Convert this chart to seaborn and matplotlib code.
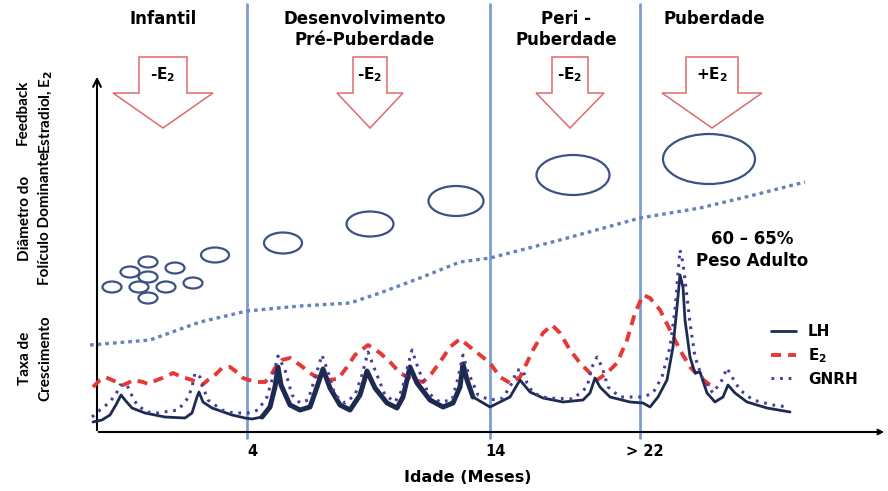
import numpy as np
import matplotlib.pyplot as plt
import seaborn as sns
from matplotlib.patches import Ellipse, Polygon

sns.set_style("white")
plt.rcParams['font.family'] = ['DejaVu Sans']
plt.rcParams['text.color'] = 'black'

# ---- dados (coordenadas do esquema, em pixels da figura) ----
# curva de crescimento (pontilhada azul)
cresc_x = [90, 150, 200, 247, 300, 350, 380, 420, 460, 490, 560, 600, 640, 700, 750, 805]
cresc_y = [345, 340, 322, 311, 306, 303, 293, 278, 262, 258, 240, 229, 218, 208, 196, 182]

# estradiol E2 (tracejada vermelha)
e2_x = [93, 100, 105, 112, 123, 128, 133, 143, 148, 157, 165, 173, 182, 192, 202, 208,
        213, 222, 230, 238, 243, 255, 265, 270, 275, 282, 290, 300, 313, 327, 338, 347,
        355, 368, 380, 390, 400, 413, 423, 432, 440, 450, 460, 470, 480, 490, 500, 510,
        520, 533, 543, 552, 560, 570, 580, 590, 597, 607, 617, 627, 635, 643, 650, 660,
        670, 680, 690, 700, 710, 715]
e2_y = [387, 380, 377, 380, 385, 383, 380, 382, 384, 380, 377, 373, 377, 380, 385, 380,
        377, 368, 367, 373, 378, 382, 382, 377, 368, 360, 358, 365, 375, 380, 379, 367,
        355, 345, 353, 362, 373, 380, 382, 373, 362, 347, 339, 347, 355, 363, 377, 383,
        377, 350, 333, 325, 333, 350, 363, 373, 380, 373, 363, 340, 313, 295, 298, 310,
        330, 350, 367, 377, 385, 387]

# LH (linha contínua azul-marinho)
lh_x = [93, 102, 110, 117, 121, 125, 132, 145, 165, 185, 192, 197, 199, 203, 212, 232,
        245, 252, 262, 270, 275, 278, 281, 290, 300, 310, 317, 323, 330, 340, 350, 360,
        367, 375, 387, 397, 403, 410, 417, 430, 443, 453, 460, 463, 467, 473, 490, 510,
        520, 530, 543, 563, 583, 590, 595, 600, 610, 630, 643, 650, 658, 667, 673, 677,
        680, 683, 685, 690, 695, 700, 707, 715, 723, 728, 735, 747, 767, 790]
lh_y = [422, 420, 415, 403, 395, 400, 408, 413, 417, 418, 413, 397, 392, 402, 408, 415,
        418, 419, 417, 407, 387, 367, 385, 405, 410, 407, 387, 369, 388, 405, 410, 395,
        371, 388, 403, 408, 397, 367, 383, 400, 407, 403, 387, 364, 380, 397, 407, 397,
        380, 392, 398, 402, 400, 393, 378, 387, 397, 402, 403, 407, 397, 380, 347, 307,
        275, 287, 320, 357, 373, 372, 393, 402, 397, 385, 393, 402, 408, 412]

# GNRH (pontilhada roxa)
gnrh_x = [92, 100, 110, 117, 120, 127, 130, 137, 147, 157, 178, 188, 192, 195, 200, 203,
          208, 222, 233, 248, 258, 267, 272, 278, 285, 292, 300, 308, 315, 322, 328, 335,
          345, 355, 362, 368, 375, 385, 395, 402, 408, 412, 418, 428, 440, 452, 458, 463,
          468, 478, 490, 503, 512, 517, 523, 527, 533, 547, 573, 587, 592, 597, 602, 608,
          620, 643, 653, 662, 670, 675, 678, 680, 683, 687, 690, 695, 703, 713, 722, 727,
          732, 740, 753, 773, 788]
gnrh_y = [417, 410, 402, 392, 385, 385, 392, 405, 412, 413, 410, 398, 387, 373, 377, 387,
          400, 410, 413, 413, 410, 397, 380, 356, 370, 395, 403, 400, 378, 355, 372, 395,
          403, 395, 375, 352, 370, 395, 402, 390, 365, 350, 368, 393, 402, 400, 378, 355,
          372, 395, 400, 398, 383, 370, 370, 383, 393, 398, 399, 387, 367, 357, 367, 387,
          397, 397, 393, 377, 347, 310, 273, 250, 263, 297, 323, 357, 380, 393, 380, 368,
          377, 390, 400, 405, 407]

# folículos (elipses)
fol_x = [112, 130, 148, 148, 139, 175, 166, 148, 193, 215, 283, 370, 456, 573, 709]
fol_y = [287, 272, 262, 277, 287, 268, 287, 298, 283, 255, 243, 224, 201, 175, 159]
fol_w = [19, 19, 19, 19, 19, 19, 19, 19, 19, 28, 38, 47, 55, 73, 92]
fol_h = [11, 11, 11, 11, 11, 11, 11, 11, 11, 15, 21, 25, 30, 40, 50]

# setas de feedback
seta_x = [163, 370, 570, 712]
seta_haste = [24, 17, 18, 26]
seta_cabeca = [50, 33, 34, 50]
seta_txt = ['-E', '-E', '-E', '+E']

# fases e eixo
fase_x = [247, 490, 640]
fase_tick = ['4', '14', '> 22']
fase_nome = ['Infantil', 'Desenvolvimento\nPré-Puberdade', 'Peri -\nPuberdade', 'Puberdade']
fase_nome_x = [163, 365, 566, 714]

# ---- figura ----
fig = plt.figure(figsize=(8.88, 4.91), dpi=100)
ax = fig.add_axes([0, 0, 1, 1])
ax.set_xlim(0, 888)
ax.set_ylim(491, 0)
ax.axis('off')

# linhas das fases
for x in fase_x:
    ax.plot([x, x], [4, 438], color='#7c9dd2', lw=2, zorder=1)

# eixos com seta
ax.annotate('', xy=(97, 74), xytext=(97, 433),
            arrowprops=dict(arrowstyle='->', lw=1.5, color='black', mutation_scale=14))
ax.annotate('', xy=(887, 432), xytext=(96, 432),
            arrowprops=dict(arrowstyle='->', lw=1.5, color='black', mutation_scale=8))

# curvas
sns.lineplot(x=cresc_x, y=cresc_y, ax=ax, color='#6683b8', lw=2.4,
             linestyle=(0, (1.1, 1.2)), sort=False, zorder=2)
sns.lineplot(x=e2_x, y=e2_y, ax=ax, color='#e53935', lw=2.8,
             linestyle=(0, (2.6, 1.8)), sort=False, zorder=3, label='$\\mathbf{E_2}$')
sns.lineplot(x=lh_x, y=lh_y, ax=ax, color='#1c2b4f', lw=2.0, sort=False, zorder=4, label='LH')
lh_x_arr = np.array(lh_x)
mid = (lh_x_arr >= 262) & (lh_x_arr <= 475)
ax.plot(lh_x_arr[mid], np.array(lh_y)[mid], color='#1c2b4f', lw=3.6, zorder=4,
        solid_capstyle='round', solid_joinstyle='round')
sns.lineplot(x=gnrh_x, y=gnrh_y, ax=ax, color='#4a3c9e', lw=2.2,
             linestyle=(0, (0.9, 1.9)), sort=False, zorder=5, label='GNRH')

# folículos
for x, y, w, h in zip(fol_x, fol_y, fol_w, fol_h):
    ax.add_patch(Ellipse((x, y), w, h, fill=False, ec='#3b5282', lw=1.6, zorder=3))

# setas de feedback
for cx, sw, hw, txt in zip(seta_x, seta_haste, seta_cabeca, seta_txt):
    verts = [(cx - sw, 57), (cx + sw, 57), (cx + sw, 93), (cx + hw, 93),
             (cx, 128), (cx - hw, 93), (cx - sw, 93)]
    ax.add_patch(Polygon(verts, closed=True, fc='white', ec='#e06a6a', lw=1.1, zorder=3))
    ax.text(cx, 75, txt + '$_\\mathbf{2}$', ha='center', va='center',
            fontsize=11, fontweight='bold', zorder=4)

# títulos das fases
for x, nome in zip(fase_nome_x, fase_nome):
    ax.text(x, 10, nome, ha='center', va='top', fontsize=12, fontweight='bold',
            linespacing=1.2)

# rótulos do eixo x
for x, t in zip(fase_x, fase_tick):
    ax.text(x + 5, 452, t, ha='center', va='center', fontsize=10.5, fontweight='bold')
ax.text(468, 478, 'Idade (Meses)', ha='center', va='center', fontsize=11.5, fontweight='bold')

# rótulos do lado esquerdo
lado = dict(rotation=90, ha='center', va='center', fontsize=11, fontweight='bold',
            family=['Liberation Sans Narrow', 'Lato', 'DejaVu Sans'], linespacing=1.6)
ax.text(35, 112, 'Feedback\nEstradiol, E$_\\mathbf{2}$', **lado)
ax.text(35, 218, 'Diâmetro do\nFolículo Dominante', **lado)
ax.text(35, 358, 'Taxa de\nCrescimento', **lado)

# peso adulto
ax.text(752, 250, '60 – 65%\nPeso Adulto', ha='center', va='center', fontsize=12,
        fontweight='bold', linespacing=1.3)

# legenda
h, l = ax.get_legend_handles_labels()
ordem = [l.index('LH'), l.index('$\\mathbf{E_2}$'), l.index('GNRH')]
ax.legend([h[i] for i in ordem], [l[i] for i in ordem], loc='upper left',
          bbox_to_anchor=(765 / 888, 1 - 318 / 491), frameon=False, handlelength=1.6,
          labelspacing=0.45, borderaxespad=0, prop={'weight': 'bold', 'size': 11})

fig.savefig('out.png', dpi=100)
